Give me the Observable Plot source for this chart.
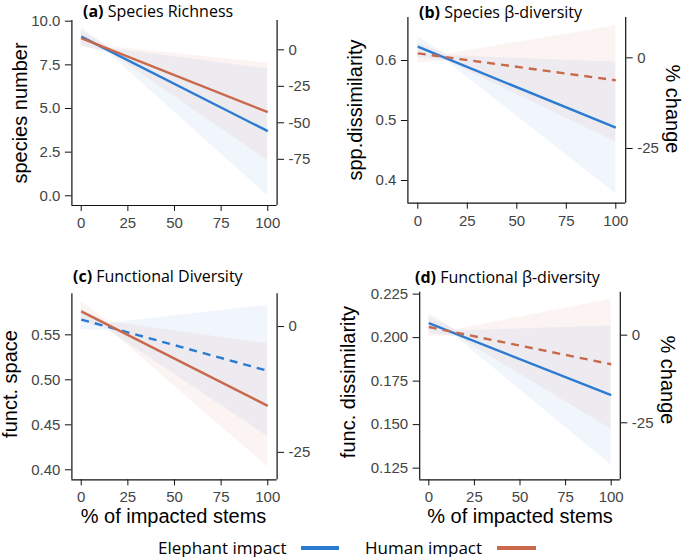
<!DOCTYPE html>
<html><head><meta charset="utf-8">
<script src="https://cdn.jsdelivr.net/npm/d3@7"></script>
<script src="https://cdn.jsdelivr.net/npm/@observablehq/plot@0.6"></script>
<style>
body{margin:0;background:#fff;}
#root{position:relative;width:685px;height:557px;overflow:hidden;font-family:"Liberation Sans",Arial,sans-serif;}
.panel{position:absolute;}
.t{position:absolute;white-space:nowrap;line-height:1;color:#000;}
.ptitle{font-family:"Open Sans",sans-serif;font-size:16px;transform:translate(0,-50%);}
.ptitle b{font-weight:700;}
.ytitle{font-size:20px;transform:translate(-50%,-50%) rotate(-90deg);}
.rtitle{font-size:20px;transform:translate(-50%,-50%) rotate(90deg);}
.xtitle{font-size:20px;transform:translate(-50%,-50%);}
.leg{font-family:"Open Sans",sans-serif;font-size:17px;transform:translate(0,-50%);}
.sw{position:absolute;height:4px;}
</style></head><body><div id="root"></div>
<script>
const series = ["Elephant impact", "Human impact"];
const colors = ["#2b7bd3", "#c9694b"];
const xTicks = [0, 25, 50, 75, 100];
const lineX = [0, 100];
const ribbonX = [0, 15, 100];

// (a) Species Richness
const aEleph = [9.12, 3.70], aHuman = [9.03, 4.79];
const aElephLo = [8.60, 8.15, 0.00], aElephHi = [9.65, 8.45, 7.27];
const aHumanLo = [8.55, 8.25, 2.00], aHumanHi = [9.45, 8.55, 7.60];
const aTicks = [0, 2.5, 5, 7.5, 10], aPct = [0, -25, -50, -75], aBase = 8.36;

// (b) Species beta-diversity
const bEleph = [0.623, 0.488], bHuman = [0.612, 0.567];
const bElephLo = [0.6055, 0.598, 0.378], bElephHi = [0.6405, 0.608, 0.597];
const bHumanLo = [0.596, 0.599, 0.464], bHumanHi = [0.628, 0.611, 0.658];
const bTicks = [0.4, 0.5, 0.6], bPct = [0, -25], bBase = 0.6045;

// (c) Functional Diversity
const cEleph = [0.567, 0.510], cHuman = [0.576, 0.471];
const cElephLo = [0.556, 0.5545, 0.437], cElephHi = [0.578, 0.563, 0.583];
const cHumanLo = [0.565, 0.556, 0.403], cHumanHi = [0.587, 0.5645, 0.540];
const cTicks = [0.40, 0.45, 0.50, 0.55], cPct = [0, -25], cBase = 0.5592;

// (d) Functional beta-diversity
const dEleph = [0.2083, 0.1669], dHuman = [0.2061, 0.1847];
const dElephLo = [0.2025, 0.2003, 0.1268], dElephHi = [0.2141, 0.2039, 0.2067];
const dHumanLo = [0.2005, 0.2011, 0.1474], dHumanHi = [0.2117, 0.2047, 0.222];
const dTicks = [0.125, 0.150, 0.175, 0.200, 0.225], dPct = [0, -25], dBase = 0.2014;

const root = document.getElementById("root");

function rows(ys, s) { return lineX.map((x, i) => ({x, y: ys[i], s})); }
function rib(lo, hi, s) { return ribbonX.map((x, i) => ({x, lo: lo[i], hi: hi[i], s})); }

function panel(p) {
  const lines = [...rows(p.eleph, series[0]), ...rows(p.human, series[1])];
  const ribs = [...rib(p.eLo, p.eHi, series[0]), ...rib(p.hLo, p.hHi, series[1])];
  const lineMark = (s, dashed) => Plot.line(lines.filter(d => d.s === s), {
    x: "x", y: "y", stroke: "s", strokeWidth: 2.4,
    strokeDasharray: dashed ? "8,6" : null, strokeLinecap: "butt"
  });
  const chart = Plot.plot({
    width: p.w, height: p.h,
    marginLeft: p.mL, marginRight: p.mR, marginTop: p.mT, marginBottom: p.mB,
    x: {domain: [-5, 105]},
    y: {domain: p.yDomain},
    color: {domain: series, range: colors},
    style: {background: "transparent", fontFamily: "'Liberation Sans', Arial, sans-serif", overflow: "visible"},
    marks: [
      Plot.areaY(ribs, {x: "x", y1: "lo", y2: "hi", fill: "s", z: "s", fillOpacity: 0.07}),
      lineMark(series[0], p.dash === 0),
      lineMark(series[1], p.dash === 1),
      Plot.ruleX([-5], {stroke: "#111", strokeWidth: 1.2}),
      Plot.ruleX([105], {stroke: "#111", strokeWidth: 1.2}),
      Plot.ruleY([p.yDomain[0]], {stroke: "#111", strokeWidth: 1.2}),
      Plot.axisX({ticks: xTicks, tickSize: 6, tickPadding: 6, fontSize: 15, label: null,
        stroke: "#111", fill: "#444", tickFormat: d => String(d)}),
      Plot.axisY({anchor: "left", ticks: p.ticks, tickSize: 6.5, tickPadding: 5, fontSize: 15, label: null,
        stroke: "#111", fill: "#444", tickFormat: d => d.toFixed(p.dec)}),
      Plot.axisY({anchor: "right", ticks: p.pct.map(v => p.base * (1 + v / 100)), tickSize: 6.5, tickPadding: 5,
        fontSize: 15, label: null, stroke: "#111", fill: "#444",
        tickFormat: d => String(Math.round((d / p.base - 1) * 100))})
    ]
  });
  chart.classList.add("panel");
  chart.style.left = p.left + "px";
  chart.style.top = p.top + "px";
  root.appendChild(chart);
}

panel({left: 0, top: 0, w: 340, h: 240, mL: 71.4, mR: 63.4, mT: 20, mB: 35, yDomain: [-0.556, 10.04],
  eleph: aEleph, human: aHuman, eLo: aElephLo, eHi: aElephHi, hLo: aHumanLo, hHi: aHumanHi,
  ticks: aTicks, dec: 1, pct: aPct, base: aBase, dash: -1});
panel({left: 340, top: 0, w: 345, h: 240, mL: 67.4, mR: 59.8, mT: 17, mB: 37.3, yDomain: [0.3622, 0.6717],
  eleph: bEleph, human: bHuman, eLo: bElephLo, eHi: bElephHi, hLo: bHumanLo, hHi: bHumanHi,
  ticks: bTicks, dec: 1, pct: bPct, base: bBase, dash: 1});
panel({left: 0, top: 240, w: 340, h: 290, mL: 71.4, mR: 63.4, mT: 53.3, mB: 50.7, yDomain: [0.3889, 0.5956],
  eleph: cEleph, human: cHuman, eLo: cElephLo, eHi: cElephHi, hLo: cHumanLo, hHi: cHumanHi,
  ticks: cTicks, dec: 2, pct: cPct, base: cBase, dash: 0});
panel({left: 340, top: 240, w: 345, h: 290, mL: 79.2, mR: 65.2, mT: 51.7, mB: 50.7, yDomain: [0.1183, 0.2261],
  eleph: dEleph, human: dHuman, eLo: dElephLo, eHi: dElephHi, hLo: dHumanLo, hHi: dHumanHi,
  ticks: dTicks, dec: 3, pct: dPct, base: dBase, dash: 1});

function txt(cls, html, x, y) {
  const d = document.createElement("div");
  d.className = "t " + cls;
  d.innerHTML = html;
  d.style.left = x + "px"; d.style.top = y + "px";
  root.appendChild(d);
  return d;
}
txt("ptitle", "<b>(a)</b> Species Richness", 83, 11);
txt("ptitle", "<b>(b)</b> Species β-diversity", 419, 12);
txt("ptitle", "<b>(c)</b> Functional Diversity", 73, 276);
txt("ptitle", "<b>(d)</b> Functional β-diversity", 415, 277);
txt("ytitle", "species number", 20, 113);
txt("ytitle", "spp.dissimilarity", 355, 110);
txt("ytitle", "funct. space", 10, 384);
txt("ytitle", "func. dissimilarity", 348, 382);
txt("rtitle", "% change", 673, 109);
txt("rtitle", "% change", 668, 380);
txt("xtitle", "% of impacted stems", 173.5, 516);
txt("xtitle", "% of impacted stems", 520, 516);
txt("leg", series[0], 158, 547);
txt("leg", series[1], 365, 547);
[[300.7, 38.6, colors[0]], [496.7, 39.3, colors[1]]].forEach(([x, w, c]) => {
  const s = document.createElement("div");
  s.className = "sw"; s.style.left = x + "px"; s.style.top = "545.5px";
  s.style.width = w + "px"; s.style.background = c;
  root.appendChild(s);
});
</script></body></html>
